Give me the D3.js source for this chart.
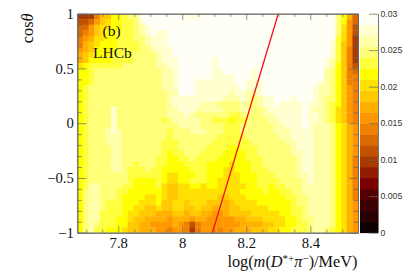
<!DOCTYPE html>
<html>
<head>
<meta charset="utf-8">
<script src="https://cdn.jsdelivr.net/npm/d3@7"></script>
<style>
  html, body { margin: 0; padding: 0; background: #fff; }
  svg { display: block; }
  text { font-family: "Liberation Serif", serif; fill: #111; }
  .zaxis text { font-family: "Liberation Sans", sans-serif; fill: #333; }
</style>
</head>
<body>
<div id="chart"></div>
<script>
var xDomain = [7.672, 8.549];
var yDomain = [-1, 1];
var zDomain = [0, 0.03];

var xMajor = [7.8, 8, 8.2, 8.4];
var xMinor = [7.7, 7.75, 7.85, 7.9, 7.95, 8.05, 8.1, 8.15, 8.25, 8.3, 8.35, 8.45, 8.5];
var yMajor = [-1, -0.5, 0, 0.5, 1];
var yMinor = [-0.9, -0.8, -0.7, -0.6, -0.4, -0.3, -0.2, -0.1, 0.1, 0.2, 0.3, 0.4, 0.6, 0.7, 0.8, 0.9];
var zMajor = [0, 0.005, 0.01, 0.015, 0.02, 0.025, 0.03];

var lineX = [8.094, 8.30];
var lineY = [-1, 1];

// palette, 20 bands from 0 to 0.03
var bandColors = ["#0f0000", "#280000", "#3c0000", "#550000", "#7a0000", "#901c00", "#a83a00", "#c05200", "#d96a00", "#f08000",
    "#ff9800", "#ffb000", "#ffc800", "#ffe000", "#ffff00", "#ffff40", "#ffff78", "#ffffa8", "#ffffd0", "#fffff5"];

// bin contents in units of 0.001, first row is cos(theta) = 1
var zRows = [
    [10,10,10,14,19,19,22,22,23,25, 25,29,29,29,29,29,29,29,29,29, 28,29,29,29,29,29,29,29,29,29, 29,29,29,29,29,29,29,29,29,29, 29,29,29,29,29,29,25,22,17,13],
    [11,11,13,16,19,20,22,22,23,23, 25,28,29,29,29,29,29,29,29,29, 29,29,29,29,29,29,29,29,29,29, 29,29,29,29,29,29,29,29,29,29, 29,29,29,29,29,29,25,22,16,13],
    [13,13,16,19,20,20,22,22,23,23, 25,26,28,29,29,29,29,29,29,29, 29,29,29,29,29,29,29,29,29,29, 29,29,29,29,29,29,29,29,29,29, 29,29,29,29,29,29,25,20,16,11],
    [13,14,16,19,20,22,22,23,23,23, 25,26,28,29,28,28,29,29,29,29, 29,29,29,29,29,29,29,29,29,29, 29,29,29,29,29,29,29,29,29,29, 29,29,29,29,29,29,25,20,16,11],
    [14,16,17,20,20,22,22,23,23,23, 25,25,26,28,28,28,29,29,29,29, 29,29,29,29,29,29,29,29,29,29, 29,29,29,29,29,29,29,29,29,29, 29,29,29,29,29,29,23,20,16,10],
    [14,17,19,20,22,22,22,23,23,23, 23,25,26,28,28,28,29,29,29,29, 29,29,29,29,29,29,29,29,29,29, 29,29,29,29,29,29,29,29,29,29, 29,29,29,29,29,28,23,19,16,10],
    [16,17,19,22,22,22,22,23,23,23, 23,25,25,26,28,28,28,29,29,29, 29,29,29,29,29,29,29,29,29,29, 29,29,29,29,29,29,29,29,29,29, 29,29,29,29,29,28,23,19,14,10],
    [17,19,20,22,22,22,23,23,23,23, 25,25,25,25,26,28,28,29,29,29, 29,29,29,29,29,29,29,29,29,29, 29,29,29,29,29,29,29,29,29,29, 29,29,29,29,29,28,23,19,14,10],
    [17,19,22,22,22,22,23,23,23,23, 25,25,25,25,26,28,28,28,29,29, 29,29,29,29,28,29,29,29,29,29, 29,29,29,29,29,29,29,29,29,29, 29,29,29,29,28,26,23,19,14,10],
    [20,22,23,23,23,23,23,23,25,25, 25,25,25,25,26,26,28,28,29,29, 29,29,29,29,28,29,29,29,29,29, 29,29,29,29,29,29,29,29,29,29, 29,29,29,29,28,26,22,19,14,11],
    [22,22,23,25,25,25,25,25,25,25, 25,25,25,25,25,26,26,28,29,29, 29,29,29,29,28,28,29,29,29,29, 29,28,29,29,29,29,29,29,29,29, 29,29,29,29,26,25,22,19,14,13],
    [22,22,23,25,25,25,25,25,25,25, 25,25,25,25,25,26,26,28,29,29, 29,29,29,29,28,28,28,28,29,29, 29,28,29,29,29,29,29,29,29,29, 29,29,29,29,26,25,22,19,14,14],
    [22,22,23,25,25,25,25,25,25,25, 25,25,25,25,25,26,26,28,29,29, 29,28,28,28,28,28,28,28,29,29, 28,28,28,29,29,29,29,29,29,29, 29,29,29,28,26,25,22,19,14,14],
    [22,23,25,25,25,25,25,25,25,25, 25,25,25,25,25,26,26,28,29,29, 29,28,28,28,28,28,28,28,28,29, 28,28,28,29,29,29,29,29,29,29, 29,29,28,26,26,25,22,19,16,14],
    [22,23,25,25,25,25,25,25,25,25, 25,25,25,25,25,25,26,26,29,29, 29,28,28,28,28,28,28,26,28,28, 26,26,28,29,29,29,29,29,29,29, 29,29,28,26,26,25,22,19,16,14],
    [22,23,25,25,25,25,25,25,25,25, 25,25,25,25,25,25,26,28,28,28, 28,28,28,28,28,28,26,26,26,28, 26,25,26,28,28,29,29,29,28,29, 29,29,28,26,25,25,22,19,16,14],
    [22,23,25,25,25,25,25,25,25,25, 25,25,25,25,25,25,26,28,28,28, 28,28,26,26,26,25,25,25,25,26, 25,25,26,28,28,29,28,28,28,28, 29,28,28,26,25,23,22,19,16,14],
    [22,23,25,25,25,25,28,25,25,25, 25,25,25,25,25,25,26,26,28,28, 28,26,26,26,26,26,25,25,25,26, 26,25,25,26,28,28,28,28,28,28, 29,28,26,26,25,23,20,19,16,14],
    [22,23,25,25,25,25,28,25,25,25, 25,25,25,25,25,25,26,26,26,28, 26,25,25,25,25,25,25,23,23,25, 25,25,25,26,26,28,28,28,28,28, 29,28,28,26,25,23,20,19,16,14],
    [22,23,25,25,25,25,28,25,25,25, 25,25,25,25,25,23,25,26,26,26, 26,26,25,25,23,23,23,22,23,23, 25,25,25,25,26,26,28,28,28,28, 29,28,28,26,25,23,20,19,16,14],
    [22,23,25,25,25,25,28,25,25,25, 25,25,25,25,25,25,25,25,26,26, 26,26,25,25,25,25,23,23,23,25, 25,25,25,25,25,26,26,28,28,28, 29,28,26,26,26,25,22,20,17,16],
    [22,23,25,25,25,26,28,26,25,25, 25,25,25,25,25,25,23,25,25,25, 26,26,26,25,25,25,23,23,23,25, 25,25,25,25,25,26,26,26,28,28, 28,28,26,26,26,25,22,20,17,16],
    [22,23,25,25,25,26,26,26,25,25, 25,25,25,25,25,25,23,25,25,25, 25,25,25,25,25,23,23,23,23,23, 25,25,25,25,25,25,26,26,28,28, 28,28,26,26,26,25,22,20,17,16],
    [22,23,25,25,25,26,26,26,25,25, 25,25,25,25,25,23,23,23,25,25, 25,25,25,25,23,23,23,23,23,23, 23,25,25,25,25,25,25,26,26,28, 28,28,26,26,26,25,22,20,17,16],
    [22,23,25,25,25,25,26,26,25,25, 25,25,25,25,25,23,23,23,25,25, 25,25,25,23,23,23,23,22,22,23, 23,23,25,25,25,25,25,25,26,28, 28,28,26,26,26,25,22,20,17,16],
    [22,23,25,25,25,25,26,26,25,25, 25,25,25,25,25,23,22,23,23,25, 25,25,23,23,23,23,22,22,22,22, 23,23,25,25,25,25,25,25,26,26, 28,28,26,26,26,25,22,20,17,16],
    [22,23,25,25,25,25,26,26,25,25, 25,25,25,25,23,23,22,22,23,23, 25,23,23,23,23,22,22,22,22,22, 23,23,23,25,25,25,25,25,25,26, 28,28,26,26,26,25,22,20,17,14],
    [22,23,25,25,25,25,26,26,25,25, 23,25,25,25,23,23,22,22,22,23, 23,23,23,22,22,22,22,20,22,22, 22,23,23,25,25,25,25,25,25,26, 28,28,26,26,26,25,22,20,17,14],
    [22,23,25,25,25,25,26,26,25,23, 23,23,25,23,23,22,22,22,22,22, 23,23,23,22,22,22,20,20,22,22, 22,23,23,23,25,25,25,25,25,26, 28,28,26,26,26,25,22,20,17,14],
    [22,23,25,25,25,25,25,25,25,23, 23,23,23,23,23,22,20,20,22,22, 22,23,23,22,22,22,20,20,20,22, 22,22,23,23,23,25,25,25,25,26, 26,28,26,26,26,25,22,20,17,14],
    [22,23,25,25,25,25,25,25,25,23, 22,22,22,22,23,22,20,20,22,22, 23,23,23,22,22,20,20,20,20,22, 22,22,23,23,23,23,25,25,25,25, 26,28,26,26,26,25,22,20,17,14],
    [22,23,26,26,25,25,25,25,23,23, 22,22,22,22,23,20,19,19,20,20, 22,22,20,22,22,20,20,20,20,20, 22,22,23,23,22,23,23,25,25,25, 26,26,26,26,26,25,22,20,17,14],
    [22,25,26,26,25,25,25,23,23,22, 22,22,22,22,22,20,19,19,20,20, 20,20,20,20,20,20,20,20,20,22, 22,22,22,23,22,22,23,23,25,25, 26,26,26,26,26,25,22,20,17,14],
    [22,25,26,26,25,25,25,23,22,22, 22,22,20,20,22,20,19,19,20,20, 20,20,20,20,20,19,19,20,20,20, 22,22,22,22,22,22,22,23,23,25, 25,26,26,26,26,25,22,20,17,14],
    [22,25,26,26,25,23,23,23,22,22, 22,20,20,20,22,19,19,20,20,19, 20,20,20,19,19,19,17,19,20,20, 20,20,22,22,22,22,22,22,23,25, 25,26,26,26,26,25,22,20,17,16],
    [22,25,26,26,25,23,23,23,22,22, 20,20,19,19,20,19,19,20,20,19, 19,20,19,19,17,17,17,19,19,20, 20,20,20,20,22,22,22,22,23,23, 25,26,26,26,26,25,22,20,17,16],
    [22,25,26,26,23,23,23,23,22,20, 20,19,19,19,17,17,17,19,19,17, 19,19,17,17,16,16,17,19,19,19, 19,20,20,20,20,20,22,22,23,23, 25,26,26,26,26,25,22,20,17,16],
    [22,25,26,26,23,23,23,22,22,20, 19,19,17,17,17,17,16,17,17,17, 16,17,17,16,16,16,16,16,17,17, 19,19,19,20,20,20,20,22,22,23, 25,25,26,26,26,25,22,20,17,16],
    [22,25,26,25,23,23,23,22,22,19, 19,17,17,16,16,16,16,17,16,14, 11,14,16,16,16,16,16,16,16,17, 17,17,17,19,19,20,20,22,22,23, 23,25,26,26,26,25,22,20,17,16],
    [22,25,26,23,23,22,22,22,20,19, 19,17,17,17,16,16,14,16,16,14, 10,14,16,16,16,14,16,16,17,17, 17,19,19,19,20,20,22,22,23,23, 23,25,26,26,25,23,22,20,17,16]
];

var width = 407, height = 277;
var plot = {left: 77.3, right: 358, top: 13.7, bottom: 232.7};
var barLeft = 360, barRight = 378;
var axisColor = "#666";

var svg = d3.select("#chart")
        .append("svg")
        .attr("width", width)
        .attr("height", height);

// the cells are a bit soft in the original picture
var defs = svg.append("defs");
defs.append("filter")
        .attr("id", "soft")
        .append("feGaussianBlur")
        .attr("stdDeviation", 0.35);
defs.append("clipPath")
        .attr("id", "plotClip")
        .append("rect")
        .attr("x", plot.left)
        .attr("y", plot.top)
        .attr("width", plot.right - plot.left)
        .attr("height", plot.bottom - plot.top);

var x = d3.scaleLinear().domain(xDomain).range([plot.left, plot.right]);
var y = d3.scaleLinear().domain(yDomain).range([plot.bottom, plot.top]);
var z = d3.scaleLinear().domain(zDomain).range([plot.bottom, plot.top]);

var col = d3.scaleBand().domain(d3.range(zRows[0].length)).range([plot.left, plot.right]);
var row = d3.scaleBand().domain(d3.range(zRows.length)).range([plot.top, plot.bottom]);

var zBand = d3.range(1, bandColors.length).map(function (i) {
    return i * zDomain[1] / bandColors.length;
});
var color = d3.scaleThreshold().domain(zBand).range(bandColors);

// heat map cells
var cells = svg.append("g")
        .attr("clip-path", "url(#plotClip)")
        .append("g")
        .attr("filter", "url(#soft)");

zRows.forEach(function (values, r) {
    cells.append("g")
            .selectAll("rect")
            .data(values)
            .enter()
            .append("rect")
            .attr("x", function (d, c) { return col(c); })
            .attr("y", row(r))
            .attr("width", col.bandwidth() + 0.4)
            .attr("height", row.bandwidth() + 0.4)
            .attr("fill", function (d) { return color(d / 1000); });
});

// colour bar
svg.append("g")
        .selectAll("rect")
        .data(bandColors)
        .enter()
        .append("rect")
        .attr("x", barLeft)
        .attr("width", barRight - barLeft)
        .attr("y", function (d, i) { return z((i + 1) * zDomain[1] / bandColors.length); })
        .attr("height", (plot.bottom - plot.top) / bandColors.length + 0.4)
        .attr("fill", function (d) { return d; });

// red line
svg.append("path")
        .datum(d3.zip(lineX, lineY))
        .attr("d", d3.line().x(function (d) { return x(d[0]); }).y(function (d) { return y(d[1]); }))
        .attr("stroke", "#f5101a")
        .attr("stroke-width", 1.3)
        .attr("fill", "none");

function drawAxis(axis, tx, ty, cls) {
    var g = svg.append("g")
            .attr("class", cls || "")
            .attr("transform", "translate(" + tx + "," + ty + ")")
            .call(axis);
    g.select(".domain").attr("stroke", axisColor).attr("stroke-width", 0.9);
    g.selectAll(".tick line").attr("stroke", axisColor).attr("stroke-width", 0.7);
    g.attr("font-size", null).attr("font-family", null);
    return g;
}

function noLabel() { return ""; }

// bottom and top
drawAxis(d3.axisBottom(x).tickValues(xMinor).tickSizeInner(-3.2).tickSizeOuter(0).tickFormat(noLabel), 0, plot.bottom);
drawAxis(d3.axisTop(x).tickValues(xMinor).tickSizeInner(-3.2).tickSizeOuter(0).tickFormat(noLabel), 0, plot.top);
drawAxis(d3.axisTop(x).tickValues(xMajor).tickSizeInner(-6.5).tickSizeOuter(0).tickFormat(noLabel), 0, plot.top);
drawAxis(d3.axisBottom(x).tickValues(xMajor).tickSizeInner(-6.5).tickSizeOuter(0).tickPadding(4.5).tickFormat(d3.format("~g")), 0, plot.bottom)
        .selectAll("text").attr("font-size", "14.7px");

// left and right
drawAxis(d3.axisLeft(y).tickValues(yMinor).tickSizeInner(-4.5).tickSizeOuter(0).tickFormat(noLabel), plot.left, 0);
drawAxis(d3.axisRight(y).tickValues(yMinor).tickSizeInner(-4.5).tickSizeOuter(0).tickFormat(noLabel), plot.right, 0);
drawAxis(d3.axisRight(y).tickValues(yMajor).tickSizeInner(-9).tickSizeOuter(0).tickFormat(noLabel), plot.right, 0);
drawAxis(d3.axisLeft(y).tickValues(yMajor).tickSizeInner(-9).tickSizeOuter(0).tickPadding(3.5).tickFormat(d3.format("~g")), plot.left, 0)
        .selectAll("text").attr("font-size", "14.7px");

// colour bar axis
drawAxis(d3.axisRight(z).tickValues(zMajor).tickSizeInner(-9).tickSizeOuter(0).tickPadding(2.5).tickFormat(d3.format("~g")), barRight, 0, "zaxis")
        .selectAll("text").attr("font-size", "8.7px");

// titles
var xTitle = svg.append("text")
        .attr("x", 357.5)
        .attr("y", 267)
        .attr("text-anchor", "end")
        .attr("font-size", "16.3px");
xTitle.append("tspan").text("log(");
xTitle.append("tspan").attr("font-style", "italic").text("m");
xTitle.append("tspan").text("(");
xTitle.append("tspan").attr("font-style", "italic").text("D");
xTitle.append("tspan").attr("font-size", "11px").attr("dy", -5.5).text("*+");
xTitle.append("tspan").attr("font-style", "italic").attr("dy", 5.5).text("π");
xTitle.append("tspan").attr("font-size", "11px").attr("dy", -5.5).text("−");
xTitle.append("tspan").attr("dy", 5.5).text(")/MeV)");

var yTitle = svg.append("text")
        .attr("transform", "translate(33,13.5) rotate(-90)")
        .attr("text-anchor", "end")
        .attr("font-size", "16.3px");
yTitle.append("tspan").text("cos");
yTitle.append("tspan").attr("font-style", "italic").text("θ");

svg.append("text").attr("x", 102.5).attr("y", 35.5).attr("font-size", "15.5px").text("(b)");
svg.append("text").attr("x", 93).attr("y", 57.5).attr("font-size", "15.5px").text("LHCb");
</script>
</body>
</html>
